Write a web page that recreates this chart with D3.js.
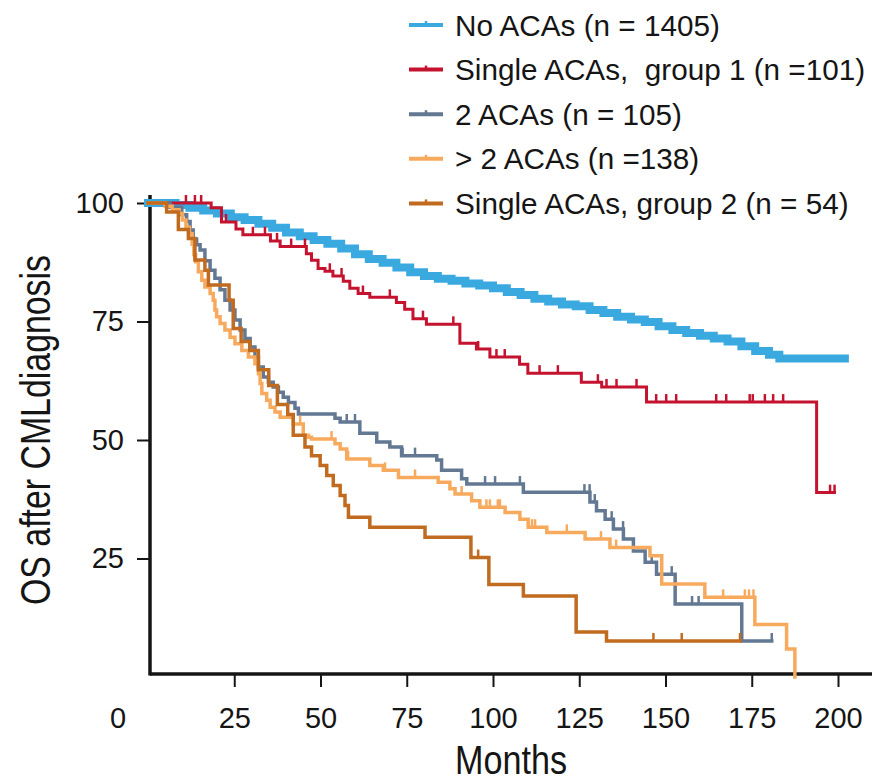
<!DOCTYPE html>
<html>
<head>
<meta charset="utf-8">
<script src="https://cdn.jsdelivr.net/npm/d3@7"></script>
<style>
  body { margin: 0; background: #fff; }
  svg { display: block; font-family: "Liberation Sans", Arial, sans-serif; }
</style>
</head>
<body>
<svg id="chart" width="875" height="784"></svg>
<script>
// Kaplan-Meier curves: [month, survival %] at each drop
const legendLabels = [
  "No ACAs (n = 1405)",
  "Single ACAs,  group 1 (n =101)",
  "2 ACAs (n = 105)",
  "> 2 ACAs (n =138)",
  "Single ACAs, group 2 (n = 54)",
];
const seriesColors = ["#3aa9df", "#c4122f", "#637892", "#f7aa5e", "#c06b1f"];

const noAcasSteps = [[0,100],[8,99.6],[12,99],[16,98.4],[20,97.8],[24,97],[28,96.4],[32,95.6],[36,94.8],[40,93.8],[44,93],[48,92.2],[52,91.4],[56,90.4],[60,89.2],[64,88.2],[68,87.4],[72,86.4],[76,85.4],[80,84.6],[84,84],[88,83.6],[92,83],[96,82.6],[100,82],[104,81.2],[108,80.6],[112,79.8],[116,79.2],[120,78.6],[124,78.2],[128,77.4],[132,76.8],[136,76],[140,75.4],[144,74.9],[148,74],[152,73.2],[156,72.6],[160,72],[164,71.4],[168,70.8],[172,69.8],[176,68.8],[180,68],[183,67.2]];
const noAcasEnd = 202;
const noAcasCensor = [];

const group1Steps = [[0,100],[18.3,99],[21.3,96],[25.5,94.5],[27.5,93.3],[35.5,92],[38.3,90.8],[45.9,89.3],[47.4,87.9],[49.3,86.2],[51.3,85.6],[53.6,84.6],[56.6,83.5],[58.5,82],[60.9,80.9],[64.3,80.1],[72,79],[74.4,77.6],[76.8,75.6],[80.7,74.4],[90.4,70.4],[95.2,69.2],[99.1,67.5],[107.7,66],[110.1,64.1],[125.6,62.2],[131.5,61.2],[144.5,58],[193.8,38.9]];
const group1End = 199;
const group1Censor = [11,13.6,15.4,22.6,30.4,33.9,37.4,41.5,45.5,52.7,56.1,62.3,70.1,79.7,88.5,95.7,101,103.4,113.5,118.8,130.4,132.9,135.8,141.6,147.3,150.2,153.1,164.7,167.6,174.4,175.3,178.8,181.2,184.1,197.7,199];

const twoAcasSteps = [[0,100],[6.4,99.1],[9.8,97.5],[11.2,96.1],[12.2,94.3],[13.1,92.4],[14.1,91.2],[15.1,90.1],[16.5,87.8],[18,85.8],[19.4,84.1],[20.9,81.7],[22.3,79.5],[23.8,77.4],[25.2,75.3],[26.7,73.2],[28.1,71.4],[29.6,69.6],[31,67.5],[32,65.4],[33.4,63.3],[34.9,62.2],[36.3,61.2],[37.8,60.1],[39.2,59],[40.7,57.9],[42.6,56.7],[43.6,55.5],[54.2,54.6],[55.7,53.8],[61.4,51.4],[66.3,49.6],[70.1,48.5],[73.5,46.7],[83.7,45.8],[85.1,43.6],[90.9,41.8],[92.4,40.7],[108.8,39],[128.1,36.9],[130,35.1],[132.5,33.3],[134.9,31.2],[137.8,29.1],[140.7,26.6],[144.1,24.2],[147.4,21.7],[152.8,15.4],[172.1,7.6]];
const twoAcasEnd = 180.8;
const twoAcasCensor = [57.6,60,73.8,77.4,97.7,100.6,107.8,126.5,128,129.5,134.4,137.7,146,151.8,157.7,159.6,180.8];

const moreAcasSteps = [[0,100],[5,99.3],[7,98.6],[9,97.8],[10,96.4],[11,94.9],[12,93.5],[12.8,91.3],[13.3,89.1],[13.8,87.6],[14.6,85.5],[15.6,83.7],[16.5,82.3],[18,80.9],[18.9,79.5],[19.4,77.4],[19.9,76],[20.9,74.6],[22.3,73.2],[23.8,71.7],[25.2,70.3],[27.2,68.9],[29.1,67.5],[31,66.1],[32,64],[32.5,61.9],[33,59.8],[34.4,58.4],[35.4,56.9],[36.8,55.9],[38.3,54.8],[42.1,53.4],[45,51],[46.5,50.6],[47.4,50.2],[54.2,49.2],[55.7,48.1],[57.6,46],[64.3,44.6],[68.2,43.6],[72.6,42.1],[84.1,41.1],[87.5,39.7],[89,38.6],[93.8,37.2],[96.2,35.8],[103.5,34.7],[107.8,33.3],[110.2,31.6],[115.6,30.5],[126.7,29.1],[133.9,27.3],[145.5,25.6],[148.9,19.6],[161.4,16.8],[175.9,11.1],[185.1,5.9],[187.5,0]];
const moreAcasEnd = 187.5;
const moreAcasCensor = [44.1,53.2,58,68.7,77.4,90.9,98.1,99.1,101.4,102,111.3,112.2,121.4,131.3,135.7,166.7,173,174.2,175.5];

const group2Steps = [[0,100],[5.4,98.1],[8.8,94.4],[11.7,92.5],[13.6,88],[16.5,85.8],[17.5,82.7],[23.5,79.5],[24.7,73.5],[27,70.8],[29.5,68.9],[32,64.8],[35,61.5],[37.5,57.5],[40.5,55.4],[42.1,51],[45.5,48.5],[47.4,46.7],[49.9,44.6],[51.8,42.5],[53.7,40.4],[55.7,38.3],[57.1,36.2],[58.1,33.7],[64.3,31.6],[80.3,29.5],[93.6,25.2],[98.8,19.5],[108.8,17.1],[124.1,9.5],[132.9,7.6]];
const group2End = 171.6;
const group2Censor = [95.7,146.5,154.7,171.6];

const xTicks = [25, 50, 75, 100, 125, 150, 175, 200];
const yTicks = [25, 50, 75, 100];

const series = [
  { steps: noAcasSteps, end: noAcasEnd, censor: noAcasCensor, width: 8 },
  { steps: group1Steps, end: group1End, censor: group1Censor, width: 3 },
  { steps: twoAcasSteps, end: twoAcasEnd, censor: twoAcasCensor, width: 3.5 },
  { steps: moreAcasSteps, end: moreAcasEnd, censor: moreAcasCensor, width: 3.5 },
  { steps: group2Steps, end: group2End, censor: group2Censor, width: 3.5 },
];

const svg = d3.select("#chart");
const x = d3.scaleLinear().domain([0, 200]).range([148, 838]);
const y = d3.scaleLinear().domain([0, 100]).range([677, 203]);
const axisY = 674, axisX = 150;
const ink = "#151515";

// axes
const xAxis = svg.append("g").attr("transform", `translate(0,${axisY})`)
  .call(d3.axisBottom(x).tickValues(xTicks).tickSize(13).tickPadding(20));
const yAxis = svg.append("g").attr("transform", `translate(${axisX},0)`)
  .call(d3.axisLeft(y).tickValues(yTicks).tickSize(13).tickPadding(13));
[xAxis, yAxis].forEach((g) => {
  g.select(".domain").remove();
  g.selectAll(".tick line").attr("stroke", ink).attr("stroke-width", 2);
  g.selectAll(".tick text").attr("fill", ink).attr("font-size", 29)
    .attr("font-family", '"Liberation Sans", Arial, sans-serif');
});
svg.append("line").attr("x1", axisX).attr("x2", 872).attr("y1", axisY).attr("y2", axisY)
  .attr("stroke", ink).attr("stroke-width", 3.5);
svg.append("line").attr("x1", axisX).attr("x2", axisX).attr("y1", 195).attr("y2", axisY + 1.5)
  .attr("stroke", ink).attr("stroke-width", 3.5);
svg.append("text").attr("x", 118).attr("y", 728).attr("text-anchor", "middle")
  .attr("font-size", 29).attr("fill", ink).text("0");

svg.append("text").attr("x", 511).attr("y", 774).attr("text-anchor", "middle")
  .attr("font-size", 40).attr("fill", ink)
  .attr("textLength", 112).attr("lengthAdjust", "spacingAndGlyphs").text("Months");
svg.append("text").attr("transform", "translate(50,430) rotate(-90)").attr("text-anchor", "middle")
  .attr("font-size", 43).attr("fill", ink)
  .attr("textLength", 350).attr("lengthAdjust", "spacingAndGlyphs").text("OS after CMLdiagnosis");

// curves
const line = d3.line().x((d) => x(d[0])).y((d) => y(d[1])).curve(d3.curveStepAfter);
const survivalAt = (steps, t) => {
  let s = steps[0][1];
  for (const [time, value] of steps) if (time <= t) s = value;
  return s;
};

series.forEach((s, i) => {
  const color = seriesColors[i];
  const last = s.steps[s.steps.length - 1];
  const pts = [...s.steps, [s.end, last[1]]];
  const g = svg.append("g");
  g.append("path").attr("d", line(pts)).attr("fill", "none").attr("stroke", color)
    .attr("stroke-width", s.width).attr("stroke-linejoin", "miter").attr("stroke-linecap", "square");
  g.selectAll("line").data(s.censor).enter().append("line")
    .attr("x1", (t) => x(t)).attr("x2", (t) => x(t))
    .attr("y1", (t) => y(survivalAt(s.steps, t)))
    .attr("y2", (t) => y(survivalAt(s.steps, t)) - 8)
    .attr("stroke", color).attr("stroke-width", 2.5);
});

// legend
const legend = svg.append("g").attr("transform", "translate(409,25)");
legendLabels.forEach((label, i) => {
  const row = legend.append("g").attr("transform", `translate(0,${i * 44.6})`);
  row.append("line").attr("x1", 0).attr("x2", 34).attr("stroke", seriesColors[i]).attr("stroke-width", 4);
  row.append("line").attr("x1", 17).attr("x2", 17).attr("y1", 0).attr("y2", -4)
    .attr("stroke", seriesColors[i]).attr("stroke-width", 2.5);
  row.append("text").attr("x", 46).attr("y", 10.5).attr("font-size", 29.7).attr("fill", ink)
    .style("white-space", "pre").text(label);
});
</script>
</body>
</html>
